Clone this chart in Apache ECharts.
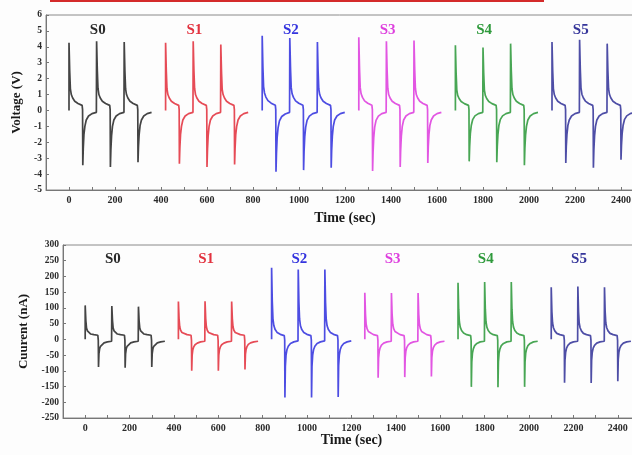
<!DOCTYPE html>
<html>
<head>
<meta charset="utf-8">
<script src="https://cdn.jsdelivr.net/npm/echarts@6/dist/echarts.min.js"></script>
<style>
  html, body { margin: 0; padding: 0; background: #fdfdfd; }
  #main { width: 632px; height: 455px; }
</style>
</head>
<body>
<div id="main"></div>
<script>
// ------------------------------------ data ------------------------------------
var sampleNames = ['S0', 'S1', 'S2', 'S3', 'S4', 'S5'];
var sampleStart = [0, 420, 840, 1260, 1680, 2100];
var sampleColors = ['#2a2a2a', '#e2323f', '#3434de', '#de3fde', '#2f9a3c', '#35359a'];

// time (sec) inside one sample run, three cycles
var sampleT = [0,
    0, 3, 6, 10, 16, 25, 39, 57, 59, 60, 62, 65, 69, 75, 85, 100, 119,
    120, 123, 126, 130, 136, 145, 159, 177, 179, 180, 182, 185, 189, 195, 205, 220, 239,
    240, 243, 246, 250, 256, 265, 279, 297, 299, 300, 302, 305, 309, 315, 325, 340, 359];

// voltage (V)
var voltS0 = [0,
    4.25, 2.5, 1.35, 1.0, 0.78, 0.58, 0.44, 0.32, 0.05, -3.45, -2.4, -1.5, -1.0, -0.6, -0.35, -0.2, -0.12,
    4.35, 2.55, 1.4, 1.0, 0.78, 0.58, 0.44, 0.32, 0.05, -3.55, -2.5, -1.6, -1.0, -0.6, -0.35, -0.2, -0.12,
    4.3, 2.5, 1.35, 1.0, 0.78, 0.58, 0.44, 0.32, 0.05, -3.25, -2.3, -1.5, -0.95, -0.6, -0.35, -0.2, -0.12];
var voltS1 = [0,
    4.25, 2.5, 1.35, 1.0, 0.78, 0.58, 0.44, 0.32, 0.05, -3.35, -2.35, -1.5, -1.0, -0.6, -0.35, -0.2, -0.12,
    4.35, 2.55, 1.4, 1.0, 0.78, 0.58, 0.44, 0.32, 0.05, -3.55, -2.5, -1.6, -1.0, -0.6, -0.35, -0.2, -0.12,
    4.15, 2.45, 1.32, 1.0, 0.78, 0.58, 0.44, 0.32, 0.05, -3.4, -2.4, -1.5, -1.0, -0.6, -0.35, -0.2, -0.12];
var voltS2 = [0,
    4.7, 2.75, 1.5, 1.1, 0.84, 0.62, 0.46, 0.33, 0.05, -3.85, -2.7, -1.7, -1.1, -0.65, -0.38, -0.22, -0.12,
    4.55, 2.7, 1.45, 1.05, 0.82, 0.6, 0.45, 0.32, 0.05, -3.75, -2.6, -1.65, -1.05, -0.62, -0.36, -0.2, -0.12,
    4.3, 2.5, 1.35, 1.0, 0.78, 0.58, 0.44, 0.32, 0.05, -3.6, -2.5, -1.6, -1.0, -0.6, -0.35, -0.2, -0.12];
var voltS3 = [0,
    4.6, 2.7, 1.45, 1.05, 0.82, 0.6, 0.45, 0.32, 0.05, -3.8, -2.65, -1.7, -1.05, -0.62, -0.36, -0.2, -0.12,
    4.35, 2.55, 1.4, 1.0, 0.78, 0.58, 0.44, 0.32, 0.05, -3.55, -2.5, -1.6, -1.0, -0.6, -0.35, -0.2, -0.12,
    4.4, 2.6, 1.4, 1.0, 0.78, 0.58, 0.44, 0.32, 0.05, -3.3, -2.3, -1.5, -0.95, -0.6, -0.35, -0.2, -0.12];
var voltS4 = [0,
    4.1, 2.4, 1.3, 0.95, 0.75, 0.56, 0.43, 0.32, 0.05, -3.2, -2.25, -1.45, -0.95, -0.58, -0.34, -0.2, -0.12,
    3.95, 2.35, 1.28, 0.95, 0.75, 0.56, 0.43, 0.32, 0.05, -3.25, -2.3, -1.5, -0.95, -0.58, -0.34, -0.2, -0.12,
    4.2, 2.5, 1.35, 1.0, 0.78, 0.58, 0.44, 0.32, 0.05, -3.45, -2.4, -1.55, -1.0, -0.6, -0.35, -0.2, -0.12];
var voltS5 = [0,
    4.3, 2.5, 1.35, 1.0, 0.78, 0.58, 0.44, 0.32, 0.05, -3.3, -2.3, -1.5, -0.95, -0.6, -0.35, -0.2, -0.12,
    4.45, 2.6, 1.42, 1.02, 0.8, 0.59, 0.44, 0.32, 0.05, -3.6, -2.5, -1.6, -1.0, -0.6, -0.35, -0.2, -0.12,
    4.2, 2.5, 1.35, 1.0, 0.78, 0.58, 0.44, 0.32, 0.05, -3.1, -2.2, -1.45, -0.95, -0.58, -0.34, -0.2, -0.12];

// current (nA)
var curS0 = [0,
    108, 60, 36, 27, 21, 17, 15, 13, -3, -88, -45, -30, -22, -16, -11, -8, -6,
    106, 60, 36, 27, 21, 17, 15, 13, -3, -90, -46, -30, -22, -16, -11, -8, -6,
    104, 58, 36, 27, 21, 17, 15, 13, -3, -88, -45, -30, -22, -16, -11, -8, -6];
var curS1 = [0,
    120, 66, 40, 29, 22, 17, 15, 13, -3, -100, -50, -33, -24, -17, -12, -8, -6,
    121, 66, 40, 29, 22, 17, 15, 13, -3, -100, -50, -33, -24, -17, -12, -8, -6,
    120, 66, 40, 29, 22, 17, 15, 13, -3, -96, -48, -32, -23, -16, -11, -8, -6];
var curS2 = [0,
    228, 120, 66, 44, 31, 22, 16, 12, -2, -185, -85, -50, -33, -22, -13, -8, -5,
    222, 118, 65, 43, 31, 22, 16, 12, -2, -185, -85, -50, -33, -22, -13, -8, -5,
    222, 118, 65, 43, 31, 22, 16, 12, -2, -183, -84, -50, -33, -22, -13, -8, -5];
var curS3 = [0,
    148, 80, 48, 34, 25, 19, 15, 12, -3, -122, -60, -38, -27, -18, -12, -8, -6,
    147, 80, 48, 34, 25, 19, 15, 12, -3, -120, -58, -37, -26, -18, -12, -8, -6,
    147, 80, 48, 34, 25, 19, 15, 12, -3, -118, -58, -37, -26, -18, -12, -8, -6];
var curS4 = [0,
    180, 96, 56, 39, 28, 20, 15, 12, -3, -151, -72, -44, -30, -20, -13, -8, -6,
    182, 96, 56, 39, 28, 20, 15, 12, -3, -152, -72, -44, -30, -20, -13, -8, -6,
    182, 96, 56, 39, 28, 20, 15, 12, -3, -151, -72, -44, -30, -20, -13, -8, -6];
var curS5 = [0,
    166, 88, 52, 37, 27, 19, 15, 12, -3, -138, -66, -41, -28, -19, -12, -8, -6,
    168, 88, 52, 37, 27, 19, 15, 12, -3, -139, -66, -41, -28, -19, -12, -8, -6,
    166, 88, 52, 37, 27, 19, 15, 12, -3, -133, -64, -40, -28, -19, -12, -8, -6];

var voltData = [voltS0, voltS1, voltS2, voltS3, voltS4, voltS5];
var curData = [curS0, curS1, curS2, curS3, curS4, curS5];

// ------------------------------------ chart ------------------------------------
var font = 'Liberation Serif';

function pairs(vals, k) {
    return sampleT.map(function (t, i) { return [sampleStart[k] + t, vals[i]]; });
}

function xAxisFor(gridIndex, gap) {
    return {
        gridIndex: gridIndex,
        type: 'value',
        min: -100,
        max: 2500,
        interval: 100,
        name: 'Time (sec)',
        nameLocation: 'middle',
        nameGap: gap,
        nameMoveOverlap: false,
        nameTextStyle: { fontFamily: font, fontWeight: 'bold', fontSize: 14, color: '#1a1a1a' },
        axisLine: { onZero: false, lineStyle: { color: '#777', width: 1 } },
        axisTick: { inside: true, length: 3, lineStyle: { color: '#777' } },
        axisLabel: {
            margin: 5,
            fontFamily: font, fontWeight: 'bold', fontSize: 10, color: '#2a2a2a',
            formatter: function (v) { return (v >= 0 && v % 200 === 0 && v <= 2400) ? String(v) : ''; }
        },
        splitLine: { show: false }
    };
}

function yAxisFor(gridIndex, min, max, step, name, gap) {
    return {
        gridIndex: gridIndex,
        type: 'value',
        min: min,
        max: max,
        interval: step,
        name: name,
        nameLocation: 'middle',
        nameGap: gap,
        nameTextStyle: { fontFamily: font, fontWeight: 'bold', fontSize: 13, color: '#1a1a1a' },
        axisLine: { show: true, onZero: false, lineStyle: { color: '#777', width: 1 } },
        axisTick: { show: true, inside: true, length: 3, lineStyle: { color: '#777' } },
        axisLabel: { margin: 4, fontFamily: font, fontWeight: 'bold', fontSize: 9.5, color: '#2a2a2a' },
        splitLine: { show: false }
    };
}

var series = [];
[voltData, curData].forEach(function (set, panel) {
    set.forEach(function (vals, k) {
        series.push({
            name: sampleNames[k],
            type: 'line',
            xAxisIndex: panel,
            yAxisIndex: panel,
            data: pairs(vals, k),
            showSymbol: false,
            animation: false,
            lineStyle: { color: sampleColors[k], width: 1.7, opacity: 0.88 },
            markPoint: {
                symbol: 'circle',
                symbolSize: 1,
                itemStyle: { color: 'rgba(0,0,0,0)' },
                label: {
                    show: true,
                    position: 'inside',
                    formatter: sampleNames[k],
                    fontFamily: font, fontWeight: 'bold', fontSize: 15,
                    color: sampleColors[k]
                },
                data: [{ coord: [sampleStart[k] + 125, panel === 0 ? 5.05 : 255] }]
            }
        });
    });
});

var chart = echarts.init(document.getElementById('main'));
var option = {
    backgroundColor: '#fdfdfd',
    animation: false,
    graphic: [{
        type: 'rect',
        left: 50, top: 0,
        shape: { width: 494, height: 2 },
        style: { fill: '#d42a2a' }
    }],
    grid: [
        { left: 46, top: 15, width: 598, height: 175, outerBoundsMode: 'none', containLabel: false,
          show: true, borderColor: '#8a8a8a', borderWidth: 1 },
        { left: 63, top: 245, width: 577, height: 173, outerBoundsMode: 'none', containLabel: false,
          show: true, borderColor: '#8a8a8a', borderWidth: 1 }
    ],
    xAxis: [xAxisFor(0, 21), xAxisFor(1, 15)],
    yAxis: [
        yAxisFor(0, -5, 6, 1, 'Voltage (V)', 18),
        yAxisFor(1, -250, 300, 50, 'Cuurent (nA)', 33)
    ],
    series: series
};
chart.setOption(option);
</script>
</body>
</html>
